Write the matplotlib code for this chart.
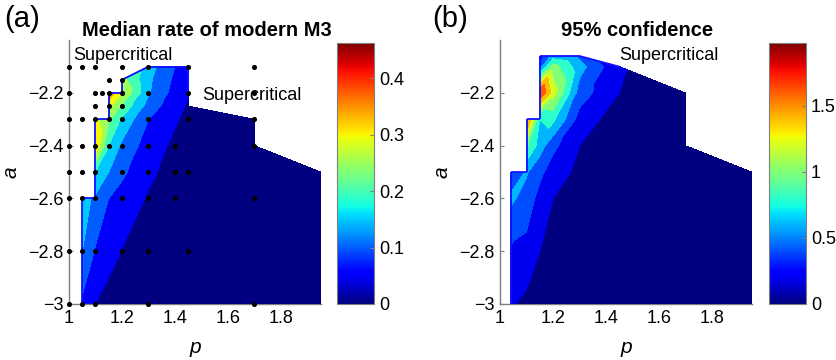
import numpy as np
import matplotlib
matplotlib.use('Agg')
import matplotlib.pyplot as plt
from matplotlib.tri import Triangulation
from matplotlib.colors import Normalize
from matplotlib.cm import ScalarMappable
from matplotlib.collections import LineCollection

plt.rcParams['font.family'] = ['Liberation Sans', 'DejaVu Sans']

nan = np.nan

# (a) median rate of modern M3, rows follow a_med (bottom to top)
p_med = [1.0, 1.05, 1.1, 1.15, 1.2, 1.3, 1.4, 1.45, 1.7, 1.95]
a_med = [-3.0, -2.8, -2.6, -2.5, -2.4, -2.3, -2.25, -2.2, -2.15, -2.1]
rate_med = [
    [nan, 0.09, 0.05, 0.03, 0.025, 0.015, 0.01, 0.01, 0.005, 0.002],
    [nan, 0.15, 0.095, 0.07, 0.048, 0.02, 0.01, 0.01, 0.005, 0.002],
    [nan, 0.17, 0.14, 0.10, 0.08, 0.045, 0.02, 0.015, 0.005, 0.002],
    [nan, nan, 0.20, 0.15, 0.11, 0.06, 0.03, 0.02, 0.005, 0.002],
    [nan, nan, 0.34, 0.20, 0.14, 0.075, 0.04, 0.03, 0.01, nan],
    [nan, nan, 0.31, 0.26, 0.19, 0.10, 0.055, 0.04, 0.01, nan],
    [nan, nan, nan, 0.31, 0.24, 0.13, 0.065, 0.045, nan, nan],
    [nan, nan, nan, 0.39, 0.30, 0.155, 0.08, 0.055, nan, nan],
    [nan, nan, nan, nan, 0.27, 0.16, 0.09, 0.06, nan, nan],
    [nan, nan, nan, nan, nan, 0.17, 0.10, 0.07, nan, nan],
]
med_levels = [0, 0.05, 0.1, 0.15, 0.2, 0.25, 0.3, 0.35, 0.4, 0.45]
med_cmax = 0.463
med_cticks = [0, 0.1, 0.2, 0.3, 0.4]
# cells cut on the diagonal (lower-left corner p, a)
med_chamfer = [(1.2, -2.15), (1.45, -2.3), (1.7, -2.5)]

# simulated points shown as dots
dot_p = ([1.0, 1.05, 1.1, 1.2, 1.3, 1.45, 1.7] + [1.15, 1.2]
         + [1.0, 1.1, 1.125, 1.15, 1.2, 1.3, 1.45, 1.7] + [1.1, 1.15, 1.2]
         + [1.0, 1.05, 1.1, 1.15, 1.2, 1.3, 1.45, 1.7]
         + [1.0, 1.05, 1.1, 1.15, 1.2, 1.3, 1.4, 1.7]
         + [1.0, 1.05, 1.1, 1.2, 1.3, 1.4, 1.45]
         + [1.0, 1.05, 1.1, 1.2, 1.3, 1.4, 1.7]
         + [1.0, 1.05, 1.1, 1.2, 1.3, 1.45]
         + [1.0, 1.05, 1.1, 1.3, 1.7])
dot_a = ([-2.1] * 7 + [-2.15] * 2 + [-2.2] * 8 + [-2.25] * 3 + [-2.3] * 8
         + [-2.4] * 8 + [-2.5] * 7 + [-2.6] * 7 + [-2.8] * 6 + [-3.0] * 5)

# (b) 95% confidence
p_ci = [1.04, 1.1, 1.15, 1.2, 1.3, 1.45, 1.7, 1.95]
a_ci = [-3.0, -2.8, -2.6, -2.5, -2.4, -2.3, -2.2, -2.1, -2.06]
width_ci = [
    [0.22, 0.15, 0.10, 0.08, 0.05, 0.03, 0.01, 0.01],
    [0.37, 0.33, 0.20, 0.15, 0.08, 0.04, 0.02, 0.01],
    [0.64, 0.52, 0.33, 0.20, 0.10, 0.05, 0.02, 0.01],
    [0.45, 0.62, 0.45, 0.30, 0.15, 0.06, 0.02, 0.01],
    [nan, 1.05, 0.70, 0.45, 0.20, 0.10, 0.03, nan],
    [nan, 1.70, 0.80, 0.85, 0.32, 0.08, 0.03, nan],
    [nan, nan, 1.85, 1.30, 0.50, 0.20, 0.04, nan],
    [nan, nan, 0.50, 1.10, 0.68, 0.22, nan, nan],
    [nan, nan, 0.25, 0.70, 0.55, nan, nan, nan],
]
ci_levels = [0, 0.2, 0.4, 0.6, 0.8, 1.0, 1.2, 1.4, 1.6, 1.8, 2.0]
ci_cmax = 1.977
ci_cticks = [0, 0.5, 1, 1.5]
ci_chamfer = [(1.3, -2.1), (1.45, -2.2), (1.7, -2.5)]

x_ticks = [1, 1.2, 1.4, 1.6, 1.8]
x_labels = ['1', '1.2', '1.4', '1.6', '1.8']
y_ticks = [-3, -2.8, -2.6, -2.4, -2.2]
y_labels = ['\u22123', '\u22122.8', '\u22122.6', '\u22122.4', '\u22122.2']

cmap = plt.get_cmap('jet')
grey = '#7f7f7f'


def grid_triangles(p, a, z, chamfer):
    z = np.array(z, dtype=float)
    ok = ~np.isnan(z)
    nx = len(p)
    cut = {(p.index(cp), a.index(ca)) for cp, ca in chamfer}
    tris = []
    for i in range(len(a) - 1):
        for j in range(nx - 1):
            quad = [(i, j), (i, j + 1), (i + 1, j + 1), (i + 1, j)]
            good = [q[0] * nx + q[1] for q in quad if ok[q]]
            if len(good) == 4:
                tris += [good[:3], [good[0], good[2], good[3]]]
            elif len(good) == 3 and (j, i) in cut:
                tris.append(good)
    P, A = np.meshgrid(p, a)
    return Triangulation(P.ravel(), A.ravel(), tris), z.ravel()


def panel(ax, cax, p, a, z, chamfer, levels, cmax, cticks):
    tri, zz = grid_triangles(p, a, z, chamfer)
    norm = Normalize(0, cmax)
    fills = [cmap(norm(l)) for l in levels[:-1]]
    ax.tricontourf(tri, zz, levels=levels, colors=fills, zorder=3)

    # outline the computed region where it is not in the lowest band
    segs = []
    for t, nb in zip(tri.triangles, tri.neighbors):
        for k in range(3):
            if nb[k] == -1:
                v0, v1 = t[k], t[(k + 1) % 3]
                if min(zz[v0], zz[v1]) >= levels[1]:
                    segs.append([(tri.x[v0], tri.y[v0]), (tri.x[v1], tri.y[v1])])
    ax.add_collection(LineCollection(segs, colors='#1010ff', linewidths=1.3, zorder=3.5))

    ax.set_xlim(1, 1.95)
    ax.set_ylim(-3, -2.0)
    ax.set_xticks(x_ticks)
    ax.set_xticklabels(x_labels)
    ax.set_yticks(y_ticks)
    ax.set_yticklabels(y_labels)
    ax.tick_params(direction='in', length=3, color=grey, labelsize=13, pad=4)
    for s in ['top', 'right']:
        ax.spines[s].set_visible(False)
    for s in ['left', 'bottom']:
        ax.spines[s].set_color(grey)
        ax.spines[s].set_linewidth(1.0)
    ax.set_xlabel('p', fontsize=15, style='italic', labelpad=8)
    ax.set_ylabel('a', fontsize=15, style='italic', labelpad=5)

    cb = plt.colorbar(ScalarMappable(norm=norm, cmap=cmap), cax=cax, ticks=cticks)
    cb.ax.set_yticklabels([f'{t:g}' for t in cticks])
    cb.ax.tick_params(direction='in', length=3, color=grey, labelsize=13)
    cb.outline.set_edgecolor(grey)
    cb.outline.set_linewidth(0.8)


fig = plt.figure(figsize=(8.36, 3.6), dpi=100)
ax1 = fig.add_axes([0.0825, 0.1556, 0.3011, 0.7326])
cax1 = fig.add_axes([0.4031, 0.1556, 0.0443, 0.725])
ax2 = fig.add_axes([0.5981, 0.1556, 0.3011, 0.7326])
cax2 = fig.add_axes([0.9199, 0.1556, 0.0443, 0.725])

panel(ax1, cax1, p_med, a_med, rate_med, med_chamfer, med_levels, med_cmax, med_cticks)
ax1.scatter(dot_p, dot_a, s=7, color='black', zorder=4, clip_on=False)
ax1.text(1.015, -2.056, 'Supercritical', fontsize=13, va='center', zorder=5)
ax1.text(1.502, -2.208, 'Supercritical', fontsize=13, va='center', zorder=5)

panel(ax2, cax2, p_ci, a_ci, width_ci, ci_chamfer, ci_levels, ci_cmax, ci_cticks)
ax2.text(1.449, -2.056, 'Supercritical', fontsize=13, va='center', zorder=5)

fig.text(207 / 836, 1 - 31 / 360, 'Median rate of modern M3', fontsize=14.5,
         fontweight='bold', ha='center', va='center')
fig.text(637 / 836, 1 - 31 / 360, '95% confidence', fontsize=14.5,
         fontweight='bold', ha='center', va='center')
fig.text(4 / 836, 1 - 19 / 360, '(a)', fontsize=21, va='center')
fig.text(432 / 836, 1 - 19 / 360, '(b)', fontsize=21, va='center')

fig.savefig('out.png', dpi=100)
